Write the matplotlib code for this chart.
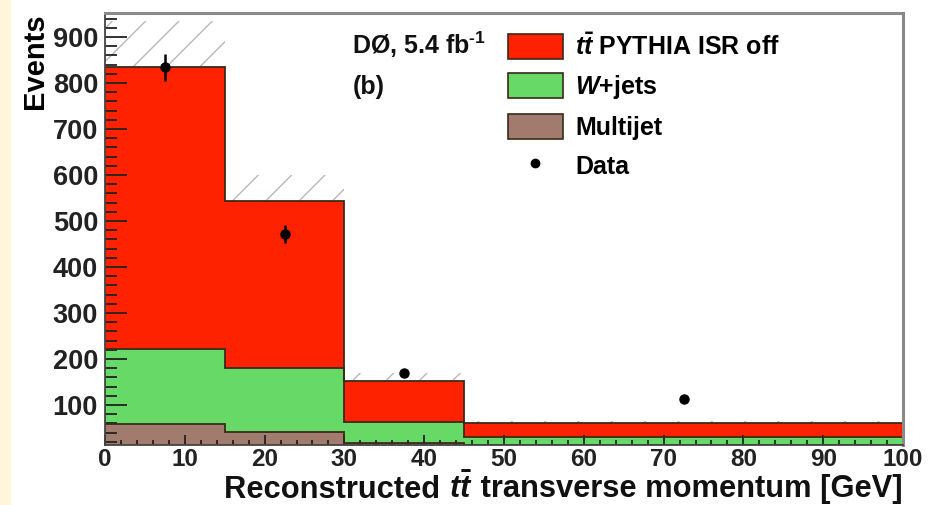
import matplotlib.pyplot as plt
import matplotlib.patches as mpatches
import matplotlib.lines as mlines
import numpy as np
from matplotlib.ticker import MultipleLocator

plt.rcParams['font.family'] = ['Liberation Sans', 'DejaVu Sans']
plt.rcParams['font.weight'] = 'bold'
plt.rcParams['mathtext.fontset'] = 'custom'
plt.rcParams['mathtext.rm'] = 'Liberation Sans:bold'
plt.rcParams['mathtext.bf'] = 'Liberation Sans:bold'
plt.rcParams['mathtext.it'] = 'Liberation Sans:italic:bold'
plt.rcParams['hatch.linewidth'] = 1.0

# histogram bins (GeV) and stacked contributions
bin_edges = [0, 15, 30, 45, 100]
multijet = [58, 41, 17, 12]
wjets = [164, 139, 46, 18]
ttbar = [613, 364, 89, 31]
syst_unc = [100, 56, 18, 5]

# data points at bin centres
data_x = [7.5, 22.5, 37.5, 72.5]
data_y = [834, 472, 170, 113]
data_err = [29, 20, 9, 5]

red = '#ff2200'
green = '#66d966'
brown = '#a07b6e'
line_col = '#3a2a1a'

ymin, ymax = 13, 952

fig = plt.figure(figsize=(9.43, 5.05), dpi=100)
fig.patches.append(mpatches.Rectangle((0, 0), 10 / 943, 1, transform=fig.transFigure,
                                      color='#fff6dc', zorder=0))
ax = fig.add_axes([105 / 943, 1 - 445 / 505, 798 / 943, 432 / 505])

edges = np.array(bin_edges, dtype=float)
mj = np.array(multijet, dtype=float)
w_top = mj + np.array(wjets)
tot = w_top + np.array(ttbar)
unc = np.array(syst_unc, dtype=float)

# uncertainty band on the total prediction
ax.bar(edges[:-1], 2 * unc, width=np.diff(edges), bottom=tot - unc, align='edge',
       fill=False, hatch='/', edgecolor='#b8b8b8', linewidth=0, zorder=1)

# stacked histograms, drawn from the top down
for top, col in [(tot, red), (w_top, green), (mj, brown)]:
    ax.stairs(top, edges, baseline=ymin, fill=True, color=col, zorder=2)
    ax.stairs(top, edges, baseline=None, color=line_col, linewidth=1.3, zorder=3)

ax.errorbar(data_x, data_y, yerr=data_err, fmt='o', color='black', markersize=6.5,
            elinewidth=1.8, capsize=0, zorder=5)

ax.set_xlim(0, 100)
ax.set_ylim(ymin, ymax)
ax.xaxis.set_major_locator(MultipleLocator(10))
ax.xaxis.set_minor_locator(MultipleLocator(2))
ax.yaxis.set_major_locator(MultipleLocator(100))
ax.yaxis.set_minor_locator(MultipleLocator(20))
ax.set_yticks(np.arange(100, 1000, 100))
ax.tick_params(axis='y', which='major', direction='in', length=16, width=1.3,
               labelsize=19.5, pad=5, colors='#222222')
ax.tick_params(axis='y', which='minor', direction='in', length=8.5, width=1.3,
               colors='#222222')
ax.tick_params(axis='x', which='major', direction='in', length=7, width=1.3,
               labelsize=17.5, pad=2.5, colors='#222222')
ax.tick_params(axis='x', which='minor', direction='in', length=3.5, width=1.3,
               colors='#222222')
for t in ax.get_xticklabels() + ax.get_yticklabels():
    t.set_fontweight('bold')
ax.set_axisbelow(False)
for side in ['left', 'bottom']:
    ax.spines[side].set_color('#444444')
    ax.spines[side].set_linewidth(1.3)
for side in ['top', 'right']:
    ax.spines[side].set_color('#8a8a8a')
    ax.spines[side].set_linewidth(2.2)
for s in ax.spines.values():
    s.set_zorder(6)

# x title built from pieces, right to left, so only "tt̄" goes through mathtext
renderer = fig.canvas.get_renderer()
fig_w = fig.bbox.width
x_right = 903 / fig_w
y_base = 1 - 497.5 / 505
pieces = ['Reconstructed ', r'$t\bar{t}$', ' transverse momentum [GeV]']
for text in reversed(pieces):
    t = fig.text(x_right, y_base, text, fontsize=22.2, fontweight='bold',
                 ha='right', va='baseline', color='#111111')
    x_right = t.get_window_extent(renderer).x0 / fig_w

ax.set_ylabel('Events', fontsize=21, fontweight='bold', loc='top', labelpad=3)

ax.text(0.31, 0.926, r'DØ, 5.4 fb$^{\text{-1}}$', transform=ax.transAxes, fontsize=18,
        fontweight='bold', va='center', color='#111111')
ax.text(0.31, 0.829, '(b)', transform=ax.transAxes, fontsize=18,
        fontweight='bold', va='center', color='#111111')

handles = [
    mpatches.Patch(facecolor=red, edgecolor=line_col, linewidth=1.2),
    mpatches.Patch(facecolor=green, edgecolor=line_col, linewidth=1.2),
    mpatches.Patch(facecolor=brown, edgecolor=line_col, linewidth=1.2),
    mlines.Line2D([], [], marker='o', color='black', linestyle='none', markersize=6),
]
labels = [r'$t\bar{t}$ PYTHIA ISR off', r'$W$+jets', 'Multijet', 'Data']
ax.legend(handles, labels, loc='upper left', bbox_to_anchor=(0.505, 0.953), frameon=False,
          fontsize=18, handlelength=2.2, handleheight=1.16, handletextpad=0.48,
          labelspacing=0.52, borderaxespad=0, borderpad=0)

fig.savefig('out.png', dpi=100)
